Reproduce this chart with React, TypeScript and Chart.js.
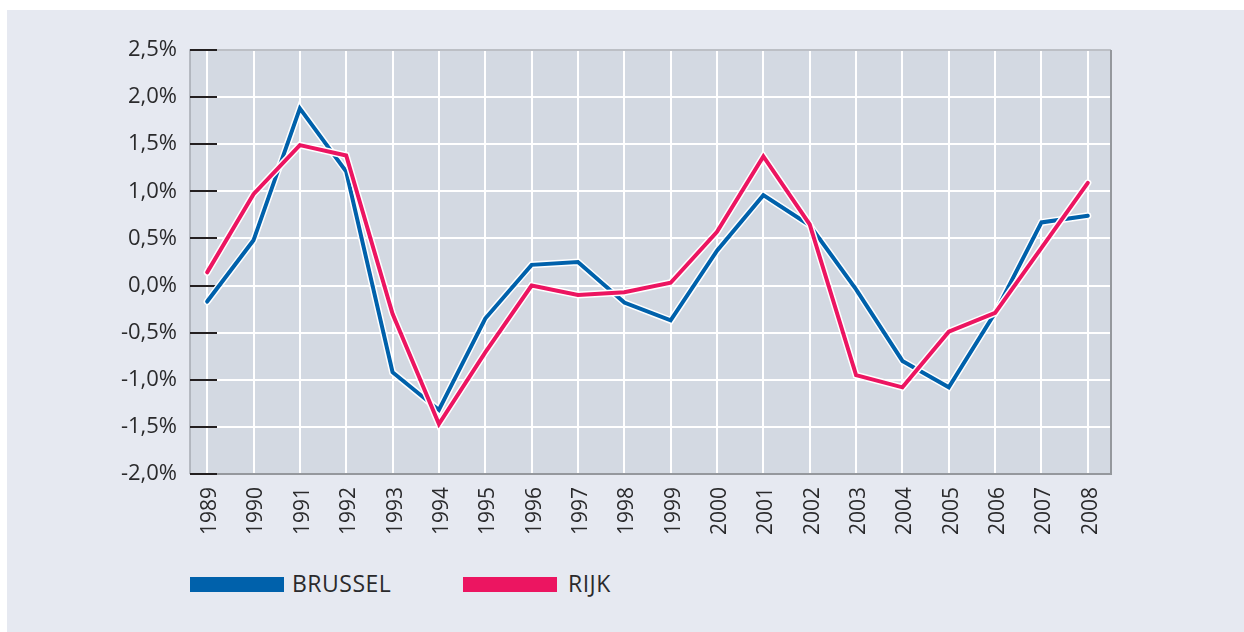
import React, { useEffect, useRef } from 'react';
import { Chart, registerables } from 'chart.js';

Chart.register(...registerables);

const years = [1989, 1990, 1991, 1992, 1993, 1994, 1995, 1996, 1997, 1998, 1999, 2000, 2001, 2002, 2003, 2004, 2005, 2006, 2007, 2008];
const brussel = [-0.17, 0.48, 1.88, 1.21, -0.92, -1.32, -0.35, 0.22, 0.25, -0.18, -0.37, 0.37, 0.96, 0.64, -0.04, -0.8, -1.08, -0.29, 0.67, 0.74];
const rijk = [0.14, 0.97, 1.49, 1.38, -0.3, -1.47, -0.71, 0.0, -0.1, -0.07, 0.03, 0.57, 1.37, 0.65, -0.95, -1.08, -0.49, -0.29, 0.4, 1.09];
const seriesNames = ['BRUSSEL', 'RIJK'];
const seriesColors = ['#0061ab', '#ec1561'];
const yMin = -2;
const yMax = 2.5;
const yStep = 0.5;

const FONT = "'Open Sans', sans-serif";
const TEXT = '#2a2a2c';

const plotPlugin = {
  id: 'plotDecor',
  beforeDraw(chart: any) {
    const { ctx, chartArea: a } = chart;
    ctx.save();
    ctx.fillStyle = '#d3d9e2';
    ctx.fillRect(a.left, a.top, a.right - a.left, a.bottom - a.top);
    ctx.restore();
  },
  beforeDatasetsDraw(chart: any) {
    const { ctx, chartArea: a } = chart;
    const ys = chart.scales.y;
    ctx.save();
    ctx.lineWidth = 1.5;
    ctx.strokeStyle = '#a7abb2';
    ctx.beginPath();
    ctx.moveTo(a.left, a.bottom);
    ctx.lineTo(a.left, a.top);
    ctx.lineTo(a.right, a.top);
    ctx.stroke();
    ctx.lineWidth = 2;
    ctx.strokeStyle = '#95989d';
    ctx.beginPath();
    ctx.moveTo(a.right, a.top);
    ctx.lineTo(a.right, a.bottom);
    ctx.lineTo(a.left, a.bottom);
    ctx.stroke();
    ctx.strokeStyle = '#231f20';
    ctx.lineWidth = 2;
    ys.ticks.forEach((t: any) => {
      const py = Math.round(ys.getPixelForValue(t.value));
      ctx.beginPath();
      ctx.moveTo(a.left, py);
      ctx.lineTo(a.left + 27, py);
      ctx.stroke();
    });
    ctx.restore();
  },
};

export default function App() {
  const ref = useRef<HTMLCanvasElement | null>(null);

  useEffect(() => {
    if (!ref.current) return;
    const pts = (vals: number[]) => years.map((x, i) => ({ x, y: vals[i] }));
    const common = {
      pointRadius: 0,
      pointHoverRadius: 0,
      tension: 0,
      borderJoinStyle: 'miter' as const,
      borderCapStyle: 'round' as const,
      fill: false,
    };
    const chart = new Chart(ref.current, {
      type: 'line',
      data: {
        datasets: [
          { ...common, label: seriesNames[1], data: pts(rijk), borderColor: seriesColors[1], borderWidth: 4, order: 0 },
          { ...common, label: 'halo-r', data: pts(rijk), borderColor: '#ffffff', borderWidth: 7, order: 1 },
          { ...common, label: seriesNames[0], data: pts(brussel), borderColor: seriesColors[0], borderWidth: 4, order: 2 },
          { ...common, label: 'halo-b', data: pts(brussel), borderColor: '#ffffff', borderWidth: 7, order: 3 },
        ],
      },
      plugins: [plotPlugin],
      options: {
        responsive: false,
        animation: false,
        events: [],
        layout: { padding: { left: 0, top: 40, right: 133, bottom: 0 } },
        plugins: { legend: { display: false }, tooltip: { enabled: false } },
        scales: {
          x: {
            type: 'linear',
            min: 1988.63,
            max: 2008.5,
            afterBuildTicks: (scale: any) => {
              scale.ticks = years.map((v) => ({ value: v }));
            },
            afterFit: (scale: any) => {
              scale.height = 76;
            },
            grid: { color: '#ffffff', lineWidth: 2, drawTicks: false },
            border: { display: false },
            ticks: {
              autoSkip: false,
              minRotation: 90,
              maxRotation: 90,
              padding: 13,
              labelOffset: 3,
              color: TEXT,
              font: { family: FONT, size: 21 },
              callback: (v: any) => String(v),
            },
          },
          y: {
            min: yMin,
            max: yMax,
            afterFit: (scale: any) => {
              scale.width = 183;
            },
            grid: { color: '#ffffff', lineWidth: 2, drawTicks: false },
            border: { display: false },
            ticks: {
              stepSize: yStep,
              padding: 13,
              color: TEXT,
              font: { family: FONT, size: 22 },
              callback: (v: any) => Number(v).toFixed(1).replace('.', ',') + '%',
            },
          },
        },
      },
    });
    return () => chart.destroy();
  }, []);

  const legendItem = (i: number, rectLeft: number, textLeft: number) => (
    <React.Fragment key={i}>
      <div style={{ position: 'absolute', left: rectLeft, top: 567, width: 94, height: 15, background: seriesColors[i] }} />
      <div
        style={{
          position: 'absolute',
          left: textLeft,
          top: 562,
          fontFamily: FONT,
          fontSize: 23,
          lineHeight: '23px',
          color: TEXT,
          letterSpacing: 0.5,
          whiteSpace: 'nowrap',
        }}
      >
        {seriesNames[i]}
      </div>
    </React.Fragment>
  );

  return (
    <div style={{ position: 'absolute', left: 7, top: 10, width: 1237, height: 622, background: '#e6e9f1', overflow: 'hidden' }}>
      <canvas ref={ref} width={1237} height={540} style={{ position: 'absolute', left: 0, top: 0, width: 1237, height: 540 }} />
      {legendItem(0, 183, 285)}
      {legendItem(1, 456, 561)}
    </div>
  );
}
